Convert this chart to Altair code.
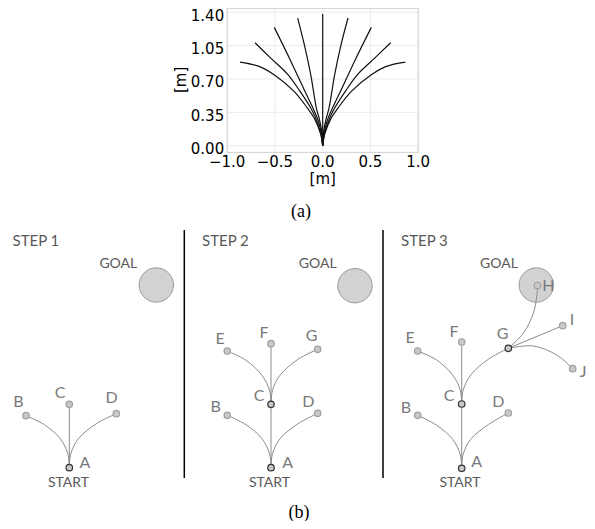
import altair as alt
import pandas as pd

# ---------------- (a) motion primitives (metres) ----------------
x_lim = [-1.0, 1.0]
y_lim = [-0.07, 1.44]
x_ticks = [-1.0, -0.5, 0.0, 0.5, 1.0]
x_tick_labels = ["\u22121.0", "\u22120.5", "0.0", "0.5", "1.0"]
y_ticks = [0.0, 0.35, 0.70, 1.05, 1.40]
y_tick_labels = ["0.00", "0.35", "0.70", "1.05", "1.40"]

c0_x = [0.0, 0.0]
c0_y = [0.0, 1.38]
r2_x = [0.0, 0.01, 0.035, 0.066, 0.125, 0.19, 0.265]
r2_y = [0.0, 0.15, 0.28, 0.395, 0.744, 1.05, 1.339]
r3_x = [0.0, 0.015, 0.05, 0.10, 0.20, 0.34, 0.509]
r3_y = [0.0, 0.14, 0.27, 0.39, 0.60, 0.90, 1.241]
r4_x = [0.0, 0.02, 0.07, 0.125, 0.237, 0.362, 0.544, 0.712]
r4_y = [0.0, 0.13, 0.28, 0.395, 0.57, 0.744, 0.919, 1.08]
r5_x = [0.0, 0.02, 0.09, 0.16, 0.30, 0.509, 0.666, 0.865]
r5_y = [0.0, 0.12, 0.29, 0.395, 0.57, 0.744, 0.832, 0.877]
l2_x = [0.0, -0.01, -0.035, -0.066, -0.125, -0.19, -0.262]
l2_y = [0.0, 0.15, 0.28, 0.395, 0.744, 1.05, 1.339]
l3_x = [0.0, -0.015, -0.05, -0.10, -0.20, -0.34, -0.507]
l3_y = [0.0, 0.14, 0.27, 0.39, 0.60, 0.90, 1.241]
l4_x = [0.0, -0.02, -0.07, -0.125, -0.237, -0.362, -0.544, -0.709]
l4_y = [0.0, 0.13, 0.28, 0.395, 0.57, 0.744, 0.919, 1.08]
l5_x = [0.0, -0.02, -0.09, -0.16, -0.30, -0.509, -0.666, -0.866]
l5_y = [0.0, 0.12, 0.29, 0.395, 0.57, 0.744, 0.832, 0.877]

curves = {"c0": (c0_x, c0_y), "r2": (r2_x, r2_y), "r3": (r3_x, r3_y),
          "r4": (r4_x, r4_y), "r5": (r5_x, r5_y), "l2": (l2_x, l2_y),
          "l3": (l3_x, l3_y), "l4": (l4_x, l4_y), "l5": (l5_x, l5_y)}
prim_rows = []
for name, (xs, ys) in curves.items():
    for i, (xv, yv) in enumerate(zip(xs, ys)):
        prim_rows.append({"c": name, "o": i, "x": xv, "y": yv})
prim = pd.DataFrame(prim_rows)

# ---------------- (b) search-tree diagram (canvas units) ----------------
node_step = [1, 1, 1, 1,
             2, 2, 2, 2, 2, 2, 2,
             3, 3, 3, 3, 3, 3, 3, 3, 3, 3]
node_name = ["A", "B", "C", "D",
             "A", "B", "C", "D", "E", "F", "G",
             "A", "B", "C", "D", "E", "F", "G", "H", "I", "J"]
node_x = [69.3, 26.0, 69.3, 116.3,
          271.0, 227.3, 271.0, 317.7, 227.3, 271.0, 317.7,
          461.7, 417.7, 461.7, 508.3, 417.7, 461.7, 508.3, 537.5, 562.7, 572.7]
node_y = [467.7, 415.7, 404.3, 413.7,
          467.7, 415.3, 404.3, 413.3, 351.0, 343.7, 349.3,
          468.3, 415.3, 404.0, 413.0, 351.0, 342.0, 348.3, 285.5, 325.7, 368.7]
node_sel = [True, False, False, False,
            True, False, True, False, False, False, False,
            True, False, True, False, False, False, True, False, False, False]
label_x = [85.0, 18.3, 60.0, 111.7,
           287.7, 215.7, 259.0, 308.3, 220.0, 264.0, 311.7,
           476.7, 406.0, 449.0, 498.3, 410.0, 454.0, 502.7, 548.3, 572.0, 583.0]
label_y = [463.0, 401.7, 393.3, 398.3,
           462.7, 406.7, 395.7, 401.7, 339.3, 333.3, 336.0,
           462.3, 407.7, 395.7, 401.7, 338.3, 332.3, 334.3, 286.0, 320.0, 371.7]

goal_x = [156.3, 355.0, 536.3]
goal_y = [285.0, 285.7, 285.0]
goal_text_x = [118.3, 317.7, 499.0]
goal_text_y = [264.3, 264.3, 264.3]
start_x = [68.5, 269.5, 460.0]
start_y = [483.3, 483.3, 483.3]
step_text = ["STEP 1", "STEP 2", "STEP 3"]
step_x = [12.5, 202.0, 401.0]
step_y = [241.0, 241.0, 241.0]
divider_x = [184.3, 383.0]
divider_top = [230.0, 230.0]
divider_bottom = [478.0, 478.0]
caption_text = ["(a)", "(b)"]
caption_x = [301.0, 299.0]
caption_y = [212.0, 513.0]

edges = {
    "1AB": ([69.3, 67.8, 60.3, 44.3, 26.0], [467.7, 453.7, 438.7, 424.7, 415.7]),
    "1AC": ([69.3, 69.3], [467.7, 404.3]),
    "1AD": ([69.3, 70.8, 78.3, 96.3, 116.3], [467.7, 453.7, 438.7, 423.7, 413.7]),
    "2AB": ([271.0, 269.5, 262.0, 246.0, 227.3], [467.7, 453.7, 438.7, 424.7, 415.3]),
    "2AC": ([271.0, 271.0], [467.7, 404.3]),
    "2AD": ([271.0, 272.5, 280.0, 298.0, 317.7], [467.7, 453.7, 438.7, 423.7, 413.3]),
    "2CE": ([271.0, 269.5, 262.0, 246.0, 227.3], [404.3, 390.3, 375.3, 360.3, 351.0]),
    "2CF": ([271.0, 271.0], [404.3, 343.7]),
    "2CG": ([271.0, 272.5, 280.0, 298.0, 317.7], [404.3, 390.3, 375.3, 359.3, 349.3]),
    "3AB": ([461.7, 460.2, 452.7, 436.7, 417.7], [468.3, 454.3, 439.3, 425.3, 415.3]),
    "3AC": ([461.7, 461.7], [468.3, 404.0]),
    "3AD": ([461.7, 463.2, 470.7, 488.7, 508.3], [468.3, 454.3, 439.3, 424.3, 413.0]),
    "3CE": ([461.7, 460.2, 452.7, 436.7, 417.7], [404.0, 390.0, 375.0, 360.0, 351.0]),
    "3CF": ([461.7, 461.7], [404.0, 342.0]),
    "3CG": ([461.7, 463.2, 470.7, 488.7, 508.3], [404.0, 390.0, 375.0, 359.0, 348.3]),
    "3GH": ([508.3, 523.3, 533.3, 536.7, 537.5], [348.3, 333.3, 313.3, 297.0, 285.5]),
    "3GI": ([508.3, 562.7], [348.3, 325.7]),
    "3GJ": ([508.3, 533.3, 556.7, 572.7], [348.3, 346.0, 355.0, 368.7]),
}
edge_rows = []
for name, (xs, ys) in edges.items():
    for i, (xv, yv) in enumerate(zip(xs, ys)):
        edge_rows.append({"e": name, "o": i, "x": xv, "y": yv})
edge_df = pd.DataFrame(edge_rows)

nodes = pd.DataFrame({"step": node_step, "name": node_name, "x": node_x, "y": node_y,
                      "sel": node_sel, "lx": label_x, "ly": label_y})
goals = pd.DataFrame({"x": goal_x, "y": goal_y, "tx": goal_text_x, "ty": goal_text_y})
starts = pd.DataFrame({"x": start_x, "y": start_y})
steps = pd.DataFrame({"t": step_text, "x": step_x, "y": step_y})
dividers = pd.DataFrame({"x": divider_x, "y": divider_top, "y2": divider_bottom})
captions = pd.DataFrame({"t": caption_text, "x": caption_x, "y": caption_y})

W, H = 579, 513

# ---------- top panel scales ----------
xs_top = alt.Scale(domain=x_lim, range=[219.2, 410.2], nice=False, zero=False)
ys_top = alt.Scale(domain=y_lim, range=[144.4, 0.4], nice=False, zero=False)

def tx(field):
    return alt.X(field, type="quantitative", scale=xs_top, axis=None)

def ty(field):
    return alt.Y(field, type="quantitative", scale=ys_top, axis=None)

frame_df = pd.DataFrame({"x": [x_lim[0]], "x2": [x_lim[1]], "y": [y_lim[0]], "y2": [y_lim[1]]})
vgrid = pd.DataFrame({"v": x_ticks, "lo": [y_lim[0]] * 5, "hi": [y_lim[1]] * 5, "lab": x_tick_labels})
hgrid = pd.DataFrame({"v": y_ticks, "lo": [x_lim[0]] * 5, "hi": [x_lim[1]] * 5, "lab": y_tick_labels})

grid_v = alt.Chart(vgrid).mark_rule(color="#ebebeb", strokeWidth=1).encode(
    x=tx("v"), y=ty("lo"), y2="hi")
grid_h = alt.Chart(hgrid).mark_rule(color="#ebebeb", strokeWidth=1).encode(
    y=ty("v"), x=tx("lo"), x2="hi")
frame = alt.Chart(frame_df).mark_rect(fill=None, stroke="#d0d0d0", strokeWidth=1).encode(
    x=tx("x"), x2="x2", y=ty("y"), y2="y2")
lines = alt.Chart(prim).mark_line(color="#111111", strokeWidth=1.2,
                                  interpolate="catmull-rom").encode(
    x=tx("x"), y=ty("y"), detail="c:N", order="o:Q")
xlab = alt.Chart(vgrid).mark_text(font="DejaVu Sans", fontSize=15, color="black",
                                  baseline="middle", align="center", dy=9.5).encode(
    x=tx("v"), y=ty("lo"), text="lab:N")
ylab = alt.Chart(hgrid).mark_text(font="DejaVu Sans", fontSize=15, color="black",
                                  baseline="middle", align="right", dx=-3, dy=3.5).encode(
    x=tx("lo"), y=ty("v"), text="lab:N")
titles_df = pd.DataFrame({"t": ["[m]"], "x": [0.0], "y": [y_lim[0]]})
xtitle = alt.Chart(titles_df).mark_text(font="DejaVu Sans", fontSize=15, color="black",
                                        baseline="middle", align="center", dy=26.5).encode(
    x=tx("x"), y=ty("y"), text="t:N")
ytitle_df = pd.DataFrame({"t": ["[m]"], "x": [x_lim[0]], "y": [0.69]})
ytitle = alt.Chart(ytitle_df).mark_text(font="DejaVu Sans", fontSize=15, color="black",
                                        baseline="middle", align="center", angle=270,
                                        dy=-46).encode(
    x=tx("x"), y=ty("y"), text="t:N")

top = alt.layer(grid_v, grid_h, frame, lines, xlab, ylab, xtitle, ytitle)

# ---------- bottom diagram scales ----------
xs_bot = alt.Scale(domain=[8, 8 + W], range=[0, W], nice=False, zero=False)
ys_bot = alt.Scale(domain=[8, 8 + H], range=[0, H], nice=False, zero=False)

def bx(field):
    return alt.X(field, type="quantitative", scale=xs_bot, axis=None)

def by(field):
    return alt.Y(field, type="quantitative", scale=ys_bot, axis=None)

div = alt.Chart(dividers).mark_rule(color="black", strokeWidth=1.5).encode(
    x=bx("x"), y=by("y"), y2="y2")
goal_c = alt.Chart(goals).mark_point(shape="circle", size=1180, filled=True,
                                     fill="#d2d2d2", stroke="#9a9a9a", strokeWidth=1,
                                     opacity=1).encode(x=bx("x"), y=by("y"))
goal_t = alt.Chart(goals).mark_text(font="Lato", fontSize=14, color="#595959",
                                    baseline="middle", align="center").encode(
    x=bx("tx"), y=by("ty"), text=alt.value("GOAL"))
edge_l = alt.Chart(edge_df).mark_line(color="#8c8c8c", strokeWidth=1,
                                      interpolate="catmull-rom").encode(
    x=bx("x"), y=by("y"), detail="e:N", order="o:Q")
node_p = alt.Chart(nodes).mark_point(shape="circle", size=42, filled=True,
                                     fill="#c8c8c8", opacity=1, strokeWidth=1.2).encode(
    x=bx("x"), y=by("y"),
    stroke=alt.condition("datum.sel", alt.value("#303030"), alt.value("#a0a0a0")))
node_t = alt.Chart(nodes).mark_text(font="Lato", fontSize=16, color="#7a7a7a",
                                    baseline="middle", align="center").encode(
    x=bx("lx"), y=by("ly"), text="name:N")
start_t = alt.Chart(starts).mark_text(font="Lato", fontSize=14, color="#595959",
                                      baseline="middle", align="center").encode(
    x=bx("x"), y=by("y"), text=alt.value("START"))
step_t = alt.Chart(steps).mark_text(font="Lato", fontSize=15, color="#595959",
                                    baseline="middle", align="left").encode(
    x=bx("x"), y=by("y"), text="t:N")
cap_t = alt.Chart(captions).mark_text(font="Liberation Serif", fontSize=18, color="black",
                                      baseline="middle", align="center").encode(
    x=bx("x"), y=by("y"), text="t:N")

bottom = alt.layer(div, goal_c, goal_t, edge_l, node_p, node_t, start_t, step_t, cap_t)

chart = alt.layer(top, bottom).resolve_scale(x="independent", y="independent").properties(
    width=W, height=H, autosize=alt.AutoSizeParams(type="none"), padding=0
).configure_view(stroke=None)

chart.save("out.html", embed_options={"renderer": "svg", "actions": False})
